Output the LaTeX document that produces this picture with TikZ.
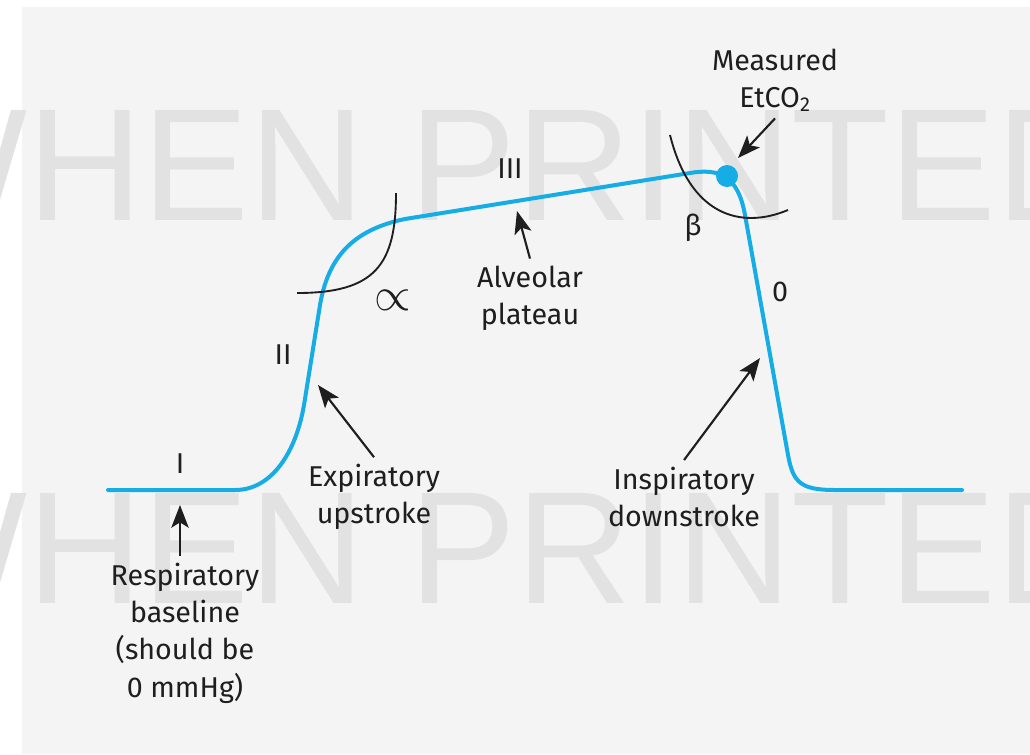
\documentclass[tikz,border=0pt]{standalone}
\usepackage{fontspec}
\setmainfont{Fira Sans}
\newfontfamily\wmfont{Liberation Sans}
\usetikzlibrary{arrows.meta}
\definecolor{capblue}{RGB}{22,172,230}
\definecolor{panelgray}{RGB}{244,244,244}
\definecolor{markgray}{RGB}{226,226,226}
\definecolor{inkblack}{RGB}{30,30,30}
\tikzstyle{note} = [inner sep=5pt, align=center, text=inkblack, font=\fontsize{21.5}{28}\selectfont]
\tikzstyle{phase} = [inner sep=0pt, text=inkblack, font=\fontsize{21.5}{28}\selectfont]
\tikzstyle{arrow} = [line width=1.6pt, draw=inkblack, -{Stealth[length=17pt, width=13pt, inset=4pt]}]
\tikzstyle{wave} = [line width=3pt, draw=capblue, line cap=round, line join=round]
\tikzstyle{bendmark} = [line width=1.4pt, draw=inkblack]
\tikzstyle{watermark} = [inner sep=0pt, text=markgray, font=\wmfont\fontsize{120}{120}\selectfont]

\begin{document}
\begin{tikzpicture}[x=0.75pt, y=-0.75pt]
        % Background
        \path[use as bounding box, fill=white] (0,0) rectangle (1030,754);
        \fill[panelgray] (22,7) rectangle (1030,754);
        \begin{scope}
            \clip (0,0) rectangle (1030,754);
            \node (mark1) [watermark, anchor=base west] at (-124,220) {WHEN PRINTED};
            \node (mark2) [watermark, anchor=base west] at (-124,603) {WHEN PRINTED};
        \end{scope}

        % Capnogram
        \draw [wave] (108,490) -- (235,490) .. controls (272,490) and (296,452) .. (304,405)
            -- (320,305) .. controls (328,258) and (352,230) .. (405,219)
            -- (690,173) .. controls (720,168) and (738,176) .. (745,215)
            -- (788,455) .. controls (793,482) and (800,490) .. (835,490) -- (962,490);
        \node (dot) [circle, fill=capblue, inner sep=0pt, minimum size=16.5pt] at (727,176) {};

        % Angles
        \draw [bendmark] (297,293) .. controls (375,293) and (396,265) .. (396,193);
        \draw [bendmark] (670,135) .. controls (690,215) and (740,230) .. (788,210);

        % Nodes
        \node (ph1) [phase] at (180,464) {I};
        \node (ph2) [phase] at (283,355) {II};
        \node (ph3) [phase] at (510,169) {III};
        \node (ph0) [phase] at (780,292) {0};
        \node (alpha) [phase] at (393,300) {\scalebox{1.7}{$\propto$}};
        \node (beta) [phase] at (693,228) {β};
        \node (measured) [note] at (775,80) {Measured\\EtCO\textsubscript{2}};
        \node (plateau) [note] at (530,298) {Alveolar\\plateau};
        \node (upstroke) [note] at (374,497) {Expiratory\\upstroke};
        \node (downstroke) [note] at (684,497) {Inspiratory\\downstroke};
        \node (baseline) [note] at (185,633) {Respiratory\\baseline\\(should be\\0 mmHg)};
        \coordinate (etco2) at (738,158);
        \coordinate (platpt) at (517,211);
        \coordinate (uppt) at (318,385);
        \coordinate (downpt) at (760,358);
        \coordinate (basept) at (180,505);

        % Arrows
        \draw [arrow] (measured.south) -- (etco2);
        \draw [arrow] (plateau.north) -- (platpt);
        \draw [arrow] (upstroke.north) -- (uppt);
        \draw [arrow] (downstroke.north) -- (downpt);
        \draw [arrow] (baseline.north -| basept) -- (basept);
    \end{tikzpicture}
\end{document}
